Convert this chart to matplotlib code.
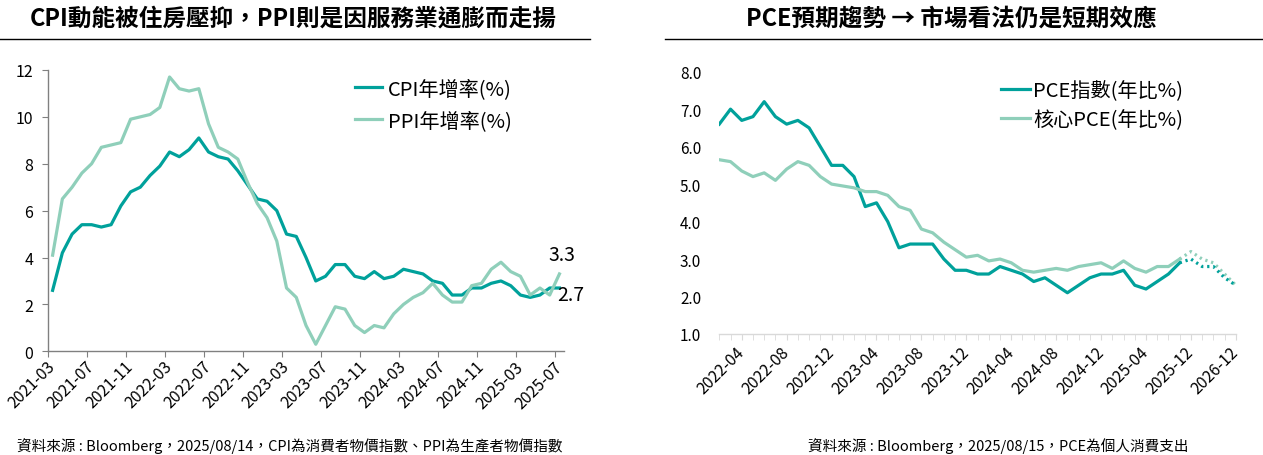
import numpy as np
import pandas as pd
import matplotlib
matplotlib.use("Agg")
import matplotlib.pyplot as plt
from matplotlib.lines import Line2D

plt.rcParams['font.family'] = ['Noto Sans CJK TC', 'DejaVu Sans']

# ---- left chart data: CPI / PPI yoy, 2021-03 .. 2025-07 ----
left_months = [p.strftime("%Y-%m") for p in pd.period_range("2021-03", "2025-07", freq="M")]
cpi = [2.6, 4.2, 5.0, 5.4, 5.4, 5.3, 5.4, 6.2, 6.8, 7.0, 7.5, 7.9,
       8.5, 8.3, 8.6, 9.1, 8.5, 8.3, 8.2, 7.7, 7.1, 6.5, 6.4, 6.0,
       5.0, 4.9, 4.0, 3.0, 3.2, 3.7, 3.7, 3.2, 3.1, 3.4, 3.1, 3.2,
       3.5, 3.4, 3.3, 3.0, 2.9, 2.4, 2.4, 2.7, 2.7, 2.9, 3.0, 2.8,
       2.4, 2.3, 2.4, 2.7, 2.7]
ppi = [4.1, 6.5, 7.0, 7.6, 8.0, 8.7, 8.8, 8.9, 9.9, 10.0, 10.1, 10.4,
       11.7, 11.2, 11.1, 11.2, 9.7, 8.7, 8.5, 8.2, 7.2, 6.3, 5.7, 4.7,
       2.7, 2.3, 1.1, 0.3, 1.1, 1.9, 1.8, 1.1, 0.8, 1.1, 1.0, 1.6,
       2.0, 2.3, 2.5, 2.9, 2.4, 2.1, 2.1, 2.8, 2.9, 3.5, 3.8, 3.4,
       3.2, 2.4, 2.7, 2.4, 3.3]

# ---- right chart data: PCE / core PCE yoy, 2022-02 .. 2025-07 + forecast ----
right_months = [p.strftime("%Y-%m") for p in pd.period_range("2022-02", "2025-07", freq="M")]
fc_periods = ["2025-12", "2026-03", "2026-06", "2026-09", "2026-12"]
pce = [6.6, 7.0, 6.7, 6.8, 7.2, 6.8, 6.6, 6.7, 6.5, 6.0,
       5.5, 5.5, 5.2, 4.4, 4.5, 4.0, 3.3, 3.4, 3.4, 3.4,
       3.0, 2.7, 2.7, 2.6, 2.6, 2.8, 2.7, 2.6, 2.4, 2.5,
       2.3, 2.1, 2.3, 2.5, 2.6, 2.6, 2.7, 2.3, 2.2, 2.4,
       2.6, 2.9]
core = [5.65, 5.6, 5.35, 5.2, 5.3, 5.1, 5.4, 5.6, 5.5, 5.2,
        5.0, 4.95, 4.9, 4.8, 4.8, 4.7, 4.4, 4.3, 3.8, 3.7,
        3.45, 3.25, 3.05, 3.1, 2.95, 3.0, 2.9, 2.7, 2.65, 2.7,
        2.75, 2.7, 2.8, 2.85, 2.9, 2.75, 2.95, 2.75, 2.65, 2.8,
        2.8, 3.0]
pce_fc = [2.9, 3.0, 2.8, 2.8, 2.5, 2.3]     # from last actual point
core_fc = [3.0, 3.2, 3.0, 2.9, 2.6, 2.3]

DARK = '#00a19b'
LIGHT = '#8fcfba'
GRAY = '#808080'

fig = plt.figure(figsize=(12.63, 4.56), dpi=100)

# ================= left =================
ax1 = fig.add_axes([0.0378, 0.2274, 0.409, 0.617])
xl = np.arange(len(left_months))
ax1.plot(xl, cpi, color=DARK, lw=2.3, label='CPI年增率(%)')
ax1.plot(xl, ppi, color=LIGHT, lw=2.3, label='PPI年增率(%)')
ax1.set_xlim(-0.5, len(left_months) - 0.5)
ax1.set_ylim(0, 12)
ax1.set_yticks(np.arange(0, 13, 2))
for s in ['top', 'right']:
    ax1.spines[s].set_visible(False)
for s in ['left', 'bottom']:
    ax1.spines[s].set_color(GRAY)
    ax1.spines[s].set_linewidth(1)
ax1.tick_params(axis='y', length=4.5, color=GRAY, labelsize=11.5, pad=6)
# boundaries as tick marks, labels on categories
ax1.set_xticks(np.arange(-0.5, len(left_months), 4))
ax1.set_xticklabels([])
ax1.tick_params(axis='x', which='major', length=4.5, color=GRAY)
lab_idx = np.arange(0, len(left_months), 4)
ax1.set_xticks(lab_idx, minor=True)
ax1.set_xticklabels([left_months[i] for i in lab_idx], minor=True,
                    rotation=45, ha='right', rotation_mode='anchor', va='center')
ax1.tick_params(axis='x', which='minor', length=0, labelsize=11.5, pad=9)

ax1.legend(loc='upper left', bbox_to_anchor=(0.58, 1.0), frameon=False,
           fontsize=14.5, handlelength=1.3, handletextpad=0.3, labelspacing=0.55,
           borderaxespad=0)
ax1.annotate(f'{ppi[-1]:.1f}', (xl[-1], ppi[-1]), xytext=(2, 14), textcoords='offset points',
             ha='center', va='center', fontsize=14)
ax1.annotate(f'{cpi[-1]:.1f}', (xl[-1], cpi[-1]), xytext=(8, -5), textcoords='offset points',
             ha='center', va='center', fontsize=14)

# ================= right =================
ax2 = fig.add_axes([0.5695, 0.2654, 0.409, 0.5752])
cats = right_months + fc_periods
xr = np.arange(len(right_months))
xf = np.arange(len(right_months) - 1, len(cats))
ax2.plot(xr, pce, color=DARK, lw=2.3, label='PCE指數(年比%)')
ax2.plot(xr, core, color=LIGHT, lw=2.3, label='核心PCE(年比%)')
ax2.plot(xf, core_fc, color=LIGHT, lw=2.3, ls=(0, (0.7, 1.2)))
ax2.plot(xf, pce_fc, color=DARK, lw=2.3, ls=(0, (0.7, 1.2)))
ax2.set_xlim(0, len(cats) - 1)
ax2.set_ylim(1, 8)
ax2.set_yticks(np.arange(1, 9))
ax2.set_yticklabels([f'{v:.1f}' for v in np.arange(1, 9)])
for s in ['top', 'right', 'left']:
    ax2.spines[s].set_visible(False)
ax2.spines['bottom'].set_color('#d9d9d9')
ax2.spines['bottom'].set_linewidth(1)
ax2.tick_params(axis='y', length=0, labelsize=11, pad=13)
rlab = np.arange(2, len(cats), 4)
ax2.set_xticks(rlab)
ax2.set_xticklabels([cats[i] for i in rlab],
                    rotation=45, ha='right', rotation_mode='anchor', va='center')
ax2.set_xticks(np.arange(len(cats)), minor=True)
ax2.tick_params(axis='x', which='both', length=4, color='#d9d9d9')
ax2.tick_params(axis='x', which='major', labelsize=11.5, pad=7)
ax2.legend(loc='upper left', bbox_to_anchor=(0.53, 1.0), frameon=False,
           fontsize=14.5, handlelength=1.45, handletextpad=0.15, labelspacing=0.4,
           borderaxespad=0)

# ================= titles / notes =================
fig.text(293 / 1263, 1 - 19 / 456, 'CPI動能被住房壓抑，PPI則是因服務業通膨而走揚',
         ha='center', va='center', fontsize=17, fontweight='bold')
fig.text(951 / 1263, 1 - 19 / 456, 'PCE預期趨勢 → 市場看法仍是短期效應',
         ha='center', va='center', fontsize=17, fontweight='bold')
fig.add_artist(Line2D([0, 590 / 1263], [1 - 40 / 456] * 2, color='black', lw=1))
fig.add_artist(Line2D([665 / 1263, 1262 / 1263], [1 - 40 / 456] * 2, color='black', lw=1))
fig.text(17 / 1263, 1 - 446 / 456,
         '資料來源 : Bloomberg，2025/08/14，CPI為消費者物價指數、PPI為生產者物價指數',
         ha='left', va='center', fontsize=10.5)
fig.text(808 / 1263, 1 - 446 / 456, '資料來源 : Bloomberg，2025/08/15，PCE為個人消費支出',
         ha='left', va='center', fontsize=10.5)

fig.savefig('out.png', dpi=100)
